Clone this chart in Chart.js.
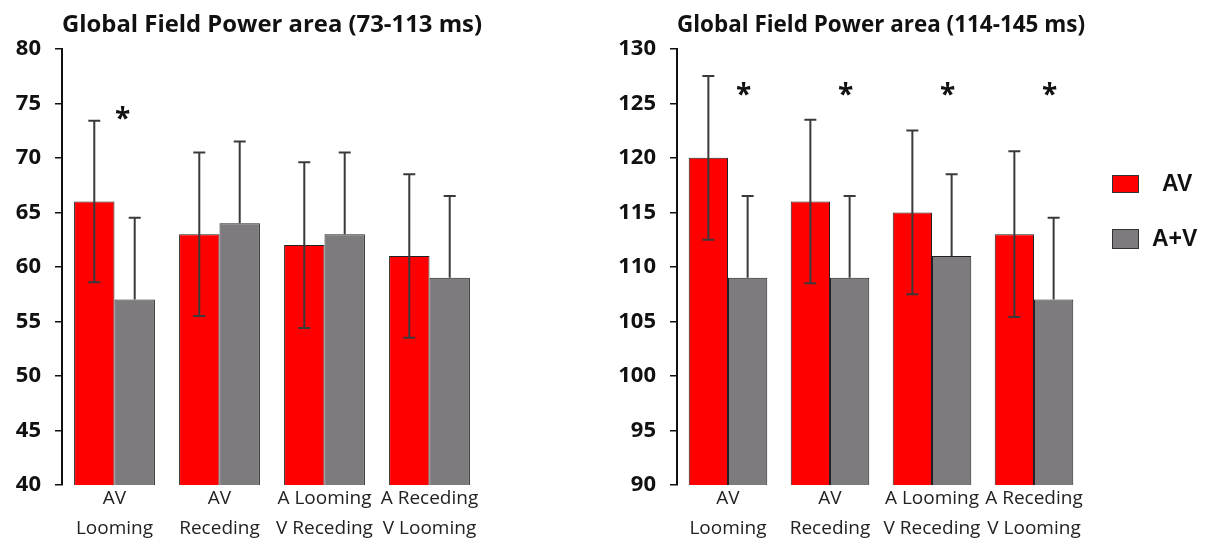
<!DOCTYPE html>
<html>
<head>
<meta charset="utf-8">
<script src="https://cdn.jsdelivr.net/npm/chart.js@4"></script>
<style>
  body { margin: 0; background: #fff; }
  #wrap { position: relative; width: 1211px; height: 540px; overflow: hidden; }
  canvas { position: absolute; top: 0; }
</style>
</head>
<body>
<div id="wrap">
  <canvas id="left" width="600" height="540" style="left:0"></canvas>
  <canvas id="right" width="611" height="540" style="left:600px"></canvas>
</div>
<script>
/**
 * Data
 */
const categories = [
  ['AV', 'Looming'],
  ['AV', 'Receding'],
  ['A Looming', 'V Receding'],
  ['A Receding', 'V Looming'],
];
const seriesNames = ['AV', 'A+V'];

// 73-113 ms window
const earlyAV = [66, 63, 62, 61];
const earlyAVsd = [7.4, 7.5, 7.6, 7.5];
const earlyAplusV = [57, 64, 63, 59];
const earlyAplusVsd = [7.5, 7.5, 7.5, 7.5];
const earlySig = [true, false, false, false];

// 114-145 ms window
const lateAV = [120, 116, 115, 113];
const lateAVsd = [7.5, 7.5, 7.5, 7.6];
const lateAplusV = [109, 109, 111, 107];
const lateAplusVsd = [7.5, 7.5, 7.5, 7.5];
const lateSig = [true, true, true, true];

const RED = '#ff0000';
const GREY = '#7e7b7e';
const FONT = '"Open Sans", "Noto Sans", sans-serif';

/**
 * Error bars (red: both ways, grey: upper only)
 */
const errorBars = {
  id: 'errorBars',
  afterDatasetsDraw(chart) {
    const { ctx } = chart;
    const y = chart.scales.y;
    chart.data.datasets.forEach((ds, i) => {
      const meta = chart.getDatasetMeta(i);
      meta.data.forEach((bar, j) => {
        const v = ds.data[j];
        const sd = ds.sd[j];
        const top = y.getPixelForValue(v + sd);
        const bottom = ds.lower ? y.getPixelForValue(v - sd) : bar.y;
        ctx.save();
        ctx.strokeStyle = '#3a3a3a';
        ctx.lineWidth = 2;
        ctx.beginPath();
        ctx.moveTo(bar.x, top);
        ctx.lineTo(bar.x, bottom);
        ctx.moveTo(bar.x - 6, top);
        ctx.lineTo(bar.x + 6, top);
        if (ds.lower) {
          ctx.moveTo(bar.x - 6, bottom);
          ctx.lineTo(bar.x + 6, bottom);
        }
        ctx.stroke();
        ctx.restore();
      });
    });
  },
};

/**
 * Significance stars
 */
const stars = {
  id: 'stars',
  afterDatasetsDraw(chart, args, opts) {
    const { ctx } = chart;
    const meta = chart.getDatasetMeta(1);
    const py = chart.scales.y.getPixelForValue(opts.level);
    ctx.save();
    ctx.fillStyle = '#111';
    ctx.font = 'bold 28px ' + FONT;
    ctx.textAlign = 'center';
    ctx.textBaseline = 'middle';
    opts.sig.forEach((s, j) => {
      if (s) ctx.fillText('*', meta.data[j].x - opts.shift, py + 4);
    });
    ctx.restore();
  },
};

/**
 * Legend drawn at the right of the second chart
 */
const sideLegend = {
  id: 'sideLegend',
  afterDraw(chart, args, opts) {
    if (!opts.show) return;
    const { ctx } = chart;
    const x = chart.chartArea.right + 27;
    const items = [
      { color: RED, label: seriesNames[0], y: 184, tx: x + 50, h: 18 },
      { color: GREY, label: seriesNames[1], y: 239, tx: x + 40, h: 20 },
    ];
    ctx.save();
    items.forEach((it) => {
      ctx.fillStyle = it.color;
      ctx.fillRect(x, it.y - it.h / 2, 27, it.h);
      ctx.strokeStyle = '#333';
      ctx.lineWidth = 1;
      ctx.strokeRect(x + 0.5, it.y - it.h / 2 + 0.5, 26, it.h - 1);
      ctx.fillStyle = '#111';
      ctx.font = 'bold 23px "Liberation Sans", Arial, sans-serif';
      ctx.textBaseline = 'middle';
      ctx.fillText(it.label, it.tx, it.y + 1);
    });
    ctx.restore();
  },
};

function createPanel({ selector, title, av, avSd, sum, sumSd, min, max, sig, level, shift, axisWidth, rightPad, legend }) {
  const ctx = document.getElementById(selector).getContext('2d');
  return new Chart(ctx, {
    type: 'bar',
    data: {
      labels: categories,
      datasets: [
        {
          label: seriesNames[0],
          data: av,
          sd: avSd,
          lower: true,
          backgroundColor: RED,
          borderColor: '#222',
          borderWidth: 1,
        },
        {
          label: seriesNames[1],
          data: sum,
          sd: sumSd,
          lower: false,
          backgroundColor: GREY,
          borderColor: '#222',
          borderWidth: 1,
        },
      ],
    },
    options: {
      responsive: false,
      animation: false,
      devicePixelRatio: 1,
      layout: { padding: { left: 0, right: rightPad, top: 0, bottom: 0 } },
      datasets: { bar: { categoryPercentage: 0.77, barPercentage: 1.0 } },
      scales: {
        x: {
          grid: { display: false },
          border: { display: false },
          ticks: {
            color: '#222',
            padding: -9,
            autoSkip: false,
            font: { family: FONT, size: 19, lineHeight: 1.58 },
            maxRotation: 0,
          },
          afterFit: (scale) => { scale.height = 55; },
        },
        y: {
          min: min,
          max: max,
          ticks: {
            stepSize: 5,
            color: '#111',
            padding: 14,
            font: { family: FONT, size: 22, weight: 'bold' },
          },
          grid: {
            drawOnChartArea: false,
            drawTicks: true,
            tickLength: 7,
            color: '#111',
            lineWidth: 1.5,
          },
          border: { color: '#111', width: 2 },
          afterFit: (scale) => { scale.width = axisWidth; },
        },
      },
      plugins: {
        legend: { display: false },
        tooltip: { enabled: false },
        title: {
          display: true,
          text: title,
          align: 'start',
          fullSize: false,
          color: '#111',
          font: { family: FONT, size: 24, weight: 'bold', lineHeight: 1.2 },
          padding: { top: 11, bottom: 9 },
        },
        stars: { sig: sig, level: level, shift: shift },
        sideLegend: { show: legend },
      },
    },
    plugins: [errorBars, stars, sideLegend],
  });
}

/**
 * Run on page load
 */
createPanel({
  selector: 'left',
  title: 'Global Field Power area (73-113 ms)',
  av: earlyAV,
  avSd: earlyAVsd,
  sum: earlyAplusV,
  sumSd: earlyAplusVsd,
  min: 40,
  max: 80,
  sig: earlySig,
  level: 73.8,
  shift: 12,
  axisWidth: 62,
  rightPad: 118,
  legend: false,
});

createPanel({
  selector: 'right',
  title: 'Global Field Power area (114-145 ms)',
  av: lateAV,
  avSd: lateAVsd,
  sum: lateAplusV,
  sumSd: lateAplusVsd,
  min: 90,
  max: 130,
  sig: lateSig,
  level: 126,
  shift: 4,
  axisWidth: 77,
  rightPad: 126,
  legend: true,
});
</script>
</body>
</html>
